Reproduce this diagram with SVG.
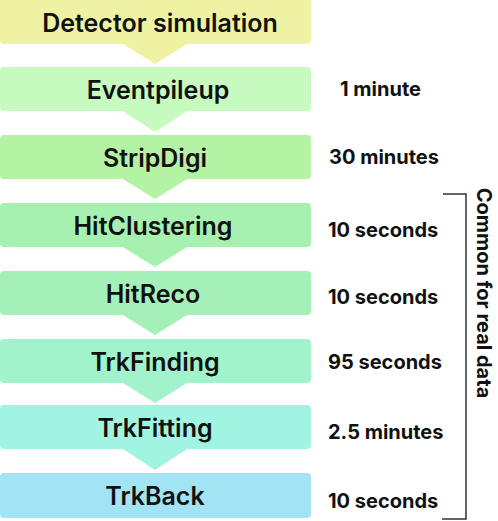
<svg xmlns="http://www.w3.org/2000/svg" width="498" height="521" viewBox="0 0 498 521">
<style>
.lbl{font-family:Inter,"Liberation Sans",sans-serif;font-weight:600;font-size:25px;fill:#111;text-anchor:middle;dominant-baseline:central}
.t{font-family:Inter,"Liberation Sans",sans-serif;font-weight:700;font-size:20px;fill:#111}
</style>
<rect width="498" height="521" fill="#fff"/>
<g id="connectors">
<polygon points="123,44 187,44 155,64" fill="#eef2a2"/>
<polygon points="123,111 187,111 155,132" fill="#c6fabe"/>
<polygon points="123,179 187,179 155,199" fill="#b4f2a4"/>
<polygon points="123,247 187,247 155,267" fill="#a6f0b0"/>
<polygon points="123,315 187,315 155,335" fill="#a4f0b8"/>
<polygon points="123,383 187,383 155,403" fill="#a2f2cc"/>
<polygon points="123,449 187,449 155,470" fill="#a2f4e2"/>
</g>
<g id="n1"><rect x="0" y="-4" width="311" height="48" rx="4" fill="#eef2a2"/><text class="lbl" x="160" y="23">Detector simulation</text></g>
<g id="n2"><rect x="0" y="67" width="311" height="44" rx="4" fill="#c6fabe"/><text class="lbl" x="158" y="90">Eventpileup</text></g>
<g id="n3"><rect x="0" y="135" width="311" height="44" rx="4" fill="#b4f2a4"/><text class="lbl" x="155" y="158">StripDigi</text></g>
<g id="n4"><rect x="0" y="203" width="311" height="44" rx="4" fill="#a6f0b0"/><text class="lbl" x="153" y="226">HitClustering</text></g>
<g id="n5"><rect x="0" y="271" width="311" height="44" rx="4" fill="#a4f0b8"/><text class="lbl" x="153" y="294">HitReco</text></g>
<g id="n6"><rect x="0" y="339" width="311" height="44" rx="4" fill="#a2f2cc"/><text class="lbl" x="155" y="362">TrkFinding</text></g>
<g id="n7"><rect x="0" y="405" width="311" height="44" rx="4" fill="#a2f4e2"/><text class="lbl" x="155" y="428">TrkFitting</text></g>
<g id="n8"><rect x="0" y="473" width="311" height="45" rx="4" fill="#a2e4f4"/><text class="lbl" x="155" y="496">TrkBack</text></g>
<g id="times">
<text class="t" x="340" y="96">1 minute</text>
<text class="t" x="329" y="164">30 minutes</text>
<text class="t" x="328" y="237">10 seconds</text>
<text class="t" x="328" y="304">10 seconds</text>
<text class="t" x="328" y="369">95 seconds</text>
<text class="t" x="328" y="439">2.5 minutes</text>
<text class="t" x="328" y="508">10 seconds</text>
</g>
<g id="bracket">
<path d="M443,194 H466 V519 H442" fill="none" stroke="#333" stroke-width="1.5"/>
<text class="t" transform="translate(477,293) rotate(90)" text-anchor="middle">Common for real data</text>
</g>
</svg>
